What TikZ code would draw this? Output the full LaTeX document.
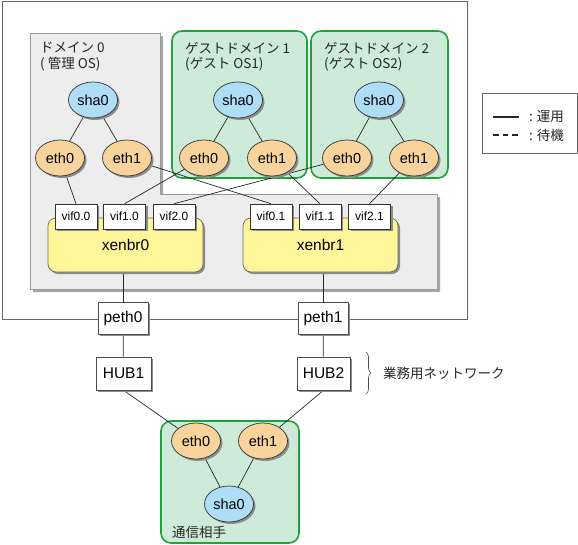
\documentclass[tikz,border=0pt]{standalone}
\usepackage{fontspec}
\setmainfont{Liberation Sans}
\newfontfamily\jpfont{Noto Sans CJK JP}
\usetikzlibrary{shadows,shapes.geometric,decorations.pathreplacing}
\definecolor{shadowgray}{HTML}{8C8C8C}
\definecolor{shablue}{HTML}{AEDDF6}
\definecolor{ethorange}{HTML}{F8D49C}
\definecolor{bryellow}{HTML}{FFF69A}
\definecolor{boxgreen}{HTML}{1FA23C}
\definecolor{fillgreen}{HTML}{CDEBD8}
\definecolor{grayfill}{HTML}{EDEDED}
\definecolor{grayline}{HTML}{9A9A9A}
\pgfdeclarelayer{bg}
\pgfdeclarelayer{edges}
\pgfsetlayers{bg,edges,main}
\begin{document}
\begin{tikzpicture}[x=1pt,y=-1pt,
 shd/.style={general shadow={shadow xshift=2pt,shadow yshift=-2pt,fill=shadowgray}},
 sha/.style={ellipse,draw=black!80,line width=.7pt,fill=shablue,minimum width=49pt,minimum height=36pt,inner sep=0pt,shd,font=\fontsize{14.5}{16}\selectfont},
 eth/.style={sha,fill=ethorange},
 vif/.style={rectangle,draw=black!80,line width=.6pt,fill=white,minimum width=42pt,minimum height=25pt,inner sep=0pt,shd,font=\fontsize{12}{14}\selectfont},
 br/.style={rectangle,rounded corners=8pt,draw=black!60,line width=.7pt,fill=bryellow,minimum width=155pt,minimum height=54pt,shd,font=\fontsize{15.5}{18}\selectfont},
 sq/.style={rectangle,draw=black!70,line width=.6pt,fill=white,minimum height=32pt,inner sep=0pt,shd,font=\fontsize{15.5}{18}\selectfont},
 gbox/.style={rectangle,rounded corners=10pt,draw=boxgreen,line width=1.6pt,fill=fillgreen,inner sep=0pt},
 jp/.style={font=\jpfont\fontsize{13.5}{15}\selectfont,anchor=west,inner sep=0pt,text=black!85},
 ln/.style={draw=black!85,line width=.7pt}]
\useasboundingbox (0,0) rectangle (578,544);
\begin{pgfonlayer}{bg}
 \draw[draw=black!60,line width=.8pt] (2,1) rectangle (467,319);
 \draw[draw=grayline,line width=.7pt,fill=grayfill,general shadow={shadow xshift=3pt,shadow yshift=-3pt,fill=black!35}]
   (30,33) -- (160,33) -- (160,194) -- (437,194) -- (437,289) -- (30,289) -- cycle;
 \node[gbox,minimum width=135pt,minimum height=147pt] (g1box) at (239.5,104.5) {};
 \node[gbox,minimum width=137pt,minimum height=147pt] (g2box) at (379.5,104.5) {};
 \node[gbox,minimum width=138pt,minimum height=122pt] (pbox) at (230,482) {};
\end{pgfonlayer}
% labels
\node[jp] (d0a) at (40,48) {ドメイン 0};
\node[jp] (d0b) at (40,64) {( 管理 OS)};
\node[jp] (g1a) at (185,48) {ゲストドメイン 1};
\node[jp] (g1b) at (185,64) {(ゲスト OS1)};
\node[jp] (g2a) at (324,48) {ゲストドメイン 2};
\node[jp] (g2b) at (324,64) {(ゲスト OS2)};
\node[jp] (peer) at (172,532) {通信相手};
\node[jp] (net) at (383,373) {業務用ネットワーク};
% domain nodes
\node[sha] (d0sha) at (93,100) {sha0};
\node[eth] (d0eth0) at (60,158) {eth0};
\node[eth] (d0eth1) at (127,158) {eth1};
\node[sha] (g1sha) at (238,100) {sha0};
\node[eth] (g1eth0) at (204,158) {eth0};
\node[eth] (g1eth1) at (272,158) {eth1};
\node[sha] (g2sha) at (379,100) {sha0};
\node[eth] (g2eth0) at (347,158) {eth0};
\node[eth] (g2eth1) at (414,158) {eth1};
% bridges
\node[br] (xb0) at (125.5,245) {\raisebox{-4pt}{xenbr0}};
\node[br] (xb1) at (320.5,245) {\raisebox{-4pt}{xenbr1}};
\node[vif] (v00) at (76,216.5) {vif0.0};
\node[vif] (v10) at (124.5,216.5) {vif1.0};
\node[vif] (v20) at (174,216.5) {vif2.0};
\node[vif] (v01) at (271,216.5) {vif0.1};
\node[vif] (v11) at (320,216.5) {vif1.1};
\node[vif] (v21) at (369.5,216.5) {vif2.1};
% physical
\node[sq,minimum width=50pt] (p0) at (123,318) {peth0};
\node[sq,minimum width=50pt] (p1) at (323,318) {peth1};
\node[sq,minimum width=55pt,minimum height=33pt] (h1) at (123.5,373.5) {HUB1};
\node[sq,minimum width=53pt,minimum height=33pt] (h2) at (323.5,373.5) {HUB2};
% peer
\node[eth] (beth0) at (196,441) {eth0};
\node[eth] (beth1) at (263,441) {eth1};
\node[sha] (bsha) at (229,504) {sha0};
% legend
\node[rectangle,draw=black!60,line width=.9pt,minimum width=95pt,minimum height=60pt,inner sep=0pt] (leg) at (529.5,123.5) {};
\coordinate (l1a) at (493,117);
\coordinate (l1b) at (519,117);
\coordinate (l2a) at (493,135);
\coordinate (l2b) at (519,135);
\node[jp] (l1t) at (529,117) {:\hspace{4pt}運用};
\node[jp] (l2t) at (529,135) {:\hspace{4pt}待機};
\draw[line width=1.3pt,black!85] (l1a) -- (l1b);
\draw[line width=1.3pt,black!85,dash pattern=on 5.5pt off 4pt] (l2a) -- (l2b);
% brace
\coordinate (bra) at (366,352);
\coordinate (brb) at (366,394);
\draw[black!70,line width=.6pt,decorate,decoration={brace,amplitude=5pt}] (bra) -- (brb);
% edges
\begin{pgfonlayer}{edges}
 \draw[ln] (d0sha) -- (d0eth0);
 \draw[ln] (d0sha) -- (d0eth1);
 \draw[ln] (g1sha) -- (g1eth0);
 \draw[ln] (g1sha) -- (g1eth1);
 \draw[ln] (g2sha) -- (g2eth0);
 \draw[ln] (g2sha) -- (g2eth1);
 \draw[ln] (d0eth0) -- (v00.north);
 \draw[ln] (d0eth1) -- (v01.north);
 \draw[ln] (g1eth0) -- (v10.north);
 \draw[ln] (g1eth1) -- (v11.north);
 \draw[ln] (g2eth0) -- (v20.north);
 \draw[ln] (g2eth1) -- (v21.north);
 \draw[ln] (p0.north) -- (p0.north |- xb0.south);
 \draw[ln] (p1.north) -- (p1.north |- xb1.south);
 \draw[ln] (p0) -- (h1);
 \draw[ln] (p1) -- (h2);
 \draw[ln] (h1.south) -- (beth0);
 \draw[ln] (h2.south) -- (beth1);
 \draw[ln] (beth0) -- (bsha);
 \draw[ln] (beth1) -- (bsha);
\end{pgfonlayer}
\end{tikzpicture}
\end{document}
